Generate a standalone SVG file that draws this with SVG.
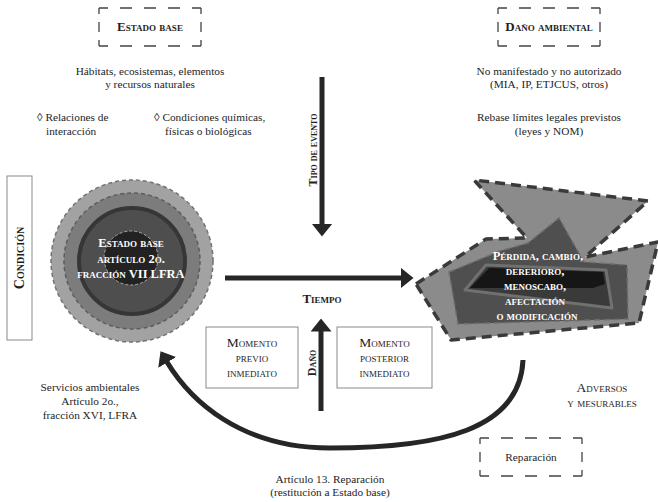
<svg xmlns="http://www.w3.org/2000/svg" width="658" height="502" viewBox="0 0 658 502">
  <style>
    text { font-family: "Liberation Serif", "Times New Roman", serif; fill: #1e1e1e; }
    .body { font-size: 11.3px; }
    .mid { text-anchor: middle; }
    .sc { font-variant: small-caps; }
    .b { font-weight: bold; }
    .head { font-size: 13px; }
    .lbl { font-size: 12px; }
    .mom { font-size: 13.5px; }
    .inv { fill: #ffffff; font-size: 12.5px; }
    .dh { stroke: #444; stroke-width: 1.3; stroke-dasharray: 9 12 12 12 12 12 12 12 9; }
    .dv { stroke: #444; stroke-width: 1.3; stroke-dasharray: 6 8 10 8 6; }
    .box { fill: #ffffff; stroke: #8a8a8a; stroke-width: 1; }
    .arrow { fill: none; stroke: #262626; stroke-width: 5; marker-end: url(#head); }
  </style>
  <defs>
    <marker id="head" markerUnits="userSpaceOnUse" markerWidth="13" markerHeight="21" viewBox="0 0 13 21" refX="0.5" refY="10.5" orient="auto">
      <path d="M0,0 L13,10.5 L0,21 Z" fill="#262626"/>
    </marker>
  </defs>
  <rect width="658" height="502" fill="#ffffff"/>

  <!-- Estado base heading -->
  <g id="estado-base">
    <line class="dh" x1="99" y1="8" x2="201" y2="8"/>
    <line class="dh" x1="99" y1="46" x2="201" y2="46"/>
    <line class="dv" x1="99" y1="8" x2="99" y2="46"/>
    <line class="dv" x1="201" y1="8" x2="201" y2="46"/>
    <text class="head b sc mid" x="150" y="31">Estado base</text>
  </g>

  <!-- Daño ambiental heading -->
  <g id="dano-ambiental">
    <line class="dh" x1="498" y1="8" x2="600" y2="8"/>
    <line class="dh" x1="498" y1="46" x2="600" y2="46"/>
    <line class="dv" x1="498" y1="8" x2="498" y2="46"/>
    <line class="dv" x1="600" y1="8" x2="600" y2="46"/>
    <text class="head b sc mid" x="549" y="31">Daño ambiental</text>
  </g>

  <g id="estado-notas">
    <text class="body mid" x="150" y="75">Hábitats, ecosistemas, elementos</text>
    <text class="body mid" x="150" y="88">y recursos naturales</text>
    <text class="body" x="37" y="121">◊ Relaciones de</text>
    <text class="body" x="46" y="135">interacción</text>
    <text class="body" x="154" y="121">◊ Condiciones químicas,</text>
    <text class="body" x="165" y="135">físicas o biológicas</text>
  </g>

  <g id="dano-notas">
    <text class="body mid" x="549" y="75">No manifestado y no autorizado</text>
    <text class="body mid" x="549" y="88">(MIA, IP, ETJCUS, otros)</text>
    <text class="body mid" x="549" y="121">Rebase límites legales previstos</text>
    <text class="body mid" x="549" y="135">(leyes y NOM)</text>
  </g>

  <!-- Condición label -->
  <g id="condicion">
    <rect class="box" x="7" y="176" width="25" height="164"/>
    <text class="b sc mid" font-size="14" transform="translate(24,258) rotate(-90)">Condición</text>
  </g>

  <!-- Concentric base state -->
  <g id="circulo-estado">
    <circle cx="132" cy="261" r="81" fill="#a2a2a2" stroke="#727272" stroke-width="1.5" stroke-dasharray="4 3"/>
    <circle cx="132" cy="261" r="68" fill="#7c7c7c" stroke="#5c5c5c" stroke-width="1.5" stroke-dasharray="4 3"/>
    <circle cx="132" cy="261" r="53" fill="#4e4e4e" stroke="#363636" stroke-width="4"/>
    <circle cx="131" cy="258" r="27" fill="#222222" stroke="#a8a8a8" stroke-width="1" stroke-dasharray="3 2"/>
    <text class="inv b sc mid" x="131" y="247">Estado base</text>
    <text class="inv b sc mid" x="131" y="263">artículo 2o.</text>
    <text class="inv b sc mid" x="131" y="278">fracción VII LFRA</text>
  </g>

  <!-- Damage shape -->
  <g id="forma-dano">
    <path d="M416,284 L486,239 L527,238 L474,180 L648,201 L585,257 L658,242 L639,323 L451,340 Z" fill="#8b8b8b" stroke="#3a3a3a" stroke-width="3.5" stroke-dasharray="10 6" stroke-linejoin="round"/>
    <path d="M449,272 L500,251 L528,243 L559,218 L584,262 L627,265 L628,319 L458,324 Z" fill="#4f4f4f" stroke="#6e6e6e" stroke-width="1.5" stroke-dasharray="6 4"/>
    <path d="M465,290 L486,265 L606,270 L612,308 Z" fill="#3a3a3a" stroke="#707070" stroke-width="3" stroke-linejoin="round"/>
    <path d="M470,288 L489,268 L603,272 L605,284 L593,288 Z" fill="#161616"/>
    <text class="inv b sc mid" x="538" y="260">Pérdida, cambio,</text>
    <text class="inv b sc mid" x="535" y="275">dererioro,</text>
    <text class="inv b sc mid" x="535" y="290">menoscabo,</text>
    <text class="inv b sc mid" x="535" y="305">afectación</text>
    <text class="inv b sc mid" x="537" y="320">o modificación</text>
  </g>

  <!-- Moment boxes -->
  <g id="momento-previo">
    <rect class="box" x="206" y="327" width="92" height="61"/>
    <text class="mom sc mid" x="252" y="347">Momento</text>
    <text class="mom sc mid" x="252" y="362">previo</text>
    <text class="mom sc mid" x="252" y="377">inmediato</text>
  </g>
  <g id="momento-posterior">
    <rect class="box" x="337" y="327" width="95" height="61"/>
    <text class="mom sc mid" x="384.5" y="347">Momento</text>
    <text class="mom sc mid" x="384.5" y="362">posterior</text>
    <text class="mom sc mid" x="384.5" y="377">inmediato</text>
  </g>

  <g id="servicios">
    <text class="body mid" x="90" y="391">Servicios ambientales</text>
    <text class="body mid" x="90" y="405">Artículo 2o.,</text>
    <text class="body mid" x="90" y="419">fracción XVI, LFRA</text>
  </g>

  <g id="adversos">
    <text class="mom sc mid" x="602" y="392">Adversos</text>
    <text class="mom sc mid" x="602" y="407">y mesurables</text>
  </g>

  <g id="reparacion">
    <line class="dh" x1="480" y1="438" x2="582" y2="438"/>
    <line class="dh" x1="480" y1="476" x2="582" y2="476"/>
    <line class="dv" x1="480" y1="438" x2="480" y2="476"/>
    <line class="dv" x1="582" y1="438" x2="582" y2="476"/>
    <text class="body mid" font-size="12" x="531" y="461">Reparación</text>
  </g>

  <g id="articulo-13">
    <text class="body mid" x="330" y="483">Artículo 13. Reparación</text>
    <text class="body mid" x="330" y="496">(restitución a Estado base)</text>
  </g>

  <!-- Connectors -->
  <g id="conectores">
    <line class="arrow" x1="225" y1="278" x2="401" y2="278"/>
    <line class="arrow" x1="322" y1="77" x2="322" y2="224"/>
    <line class="arrow" x1="321" y1="411" x2="321" y2="331"/>
    <path class="arrow" d="M523,360 C520,430 440,448 330,448 C240,448 190,400 167,362"/>
    <text class="lbl b sc mid" transform="translate(317,150) rotate(-90)">Tipo de evento</text>
    <text class="lbl b sc mid" transform="translate(316,363) rotate(-90)">Daño</text>
    <text class="head b sc mid" x="322" y="303">Tiempo</text>
  </g>
</svg>
